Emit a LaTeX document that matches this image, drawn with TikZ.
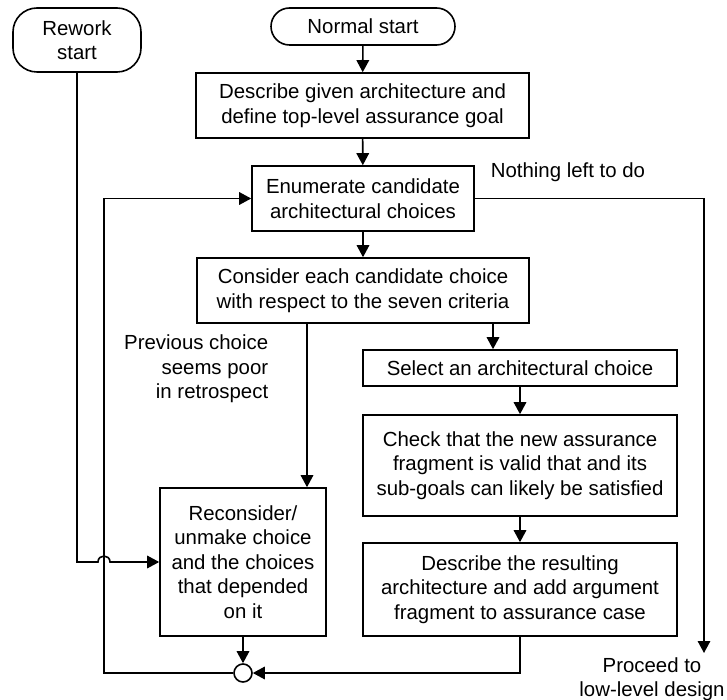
\documentclass[tikz,border=0pt]{standalone}
\usepackage{fontspec}
\setmainfont{Liberation Sans}
\usetikzlibrary{arrows.meta}
\begin{document}
\begin{tikzpicture}[x=1pt,y=-1pt,
  line width=1.6pt,
  txt/.style={font=\fontsize{20.4}{24.5}\selectfont},
  box/.style={draw, rectangle, inner sep=0pt, align=center, txt},
  term/.style={box, rounded corners=#1},
  lbl/.style={inner sep=0pt, txt},
  flow/.style={-{Triangle[length=12pt,width=12.5pt]}},
  merge/.style={draw, circle, minimum size=18pt, inner sep=0pt, fill=white}]
\useasboundingbox (0,0) rectangle (727,700);

% start terminals
\node[term=24pt, minimum width=128pt, minimum height=64pt] (rework) at (77,40) {Rework\\start};
\node[term=18.5pt, minimum width=184pt, minimum height=37pt] (normal) at (363,26.5) {Normal start};

% main column
\node[box, minimum width=333pt, minimum height=65pt] (desc) at (362.5,105.5)
  {Describe given architecture and\\define top-level assurance goal};
\node[box, minimum width=222pt, minimum height=65pt] (enum) at (363,198.5)
  {Enumerate candidate\\architectural choices};
\node[box, minimum width=332pt, minimum height=65pt] (consider) at (363,290.5)
  {Consider each candidate choice\\with respect to the seven criteria};

% right column
\node[box, minimum width=314pt, minimum height=36pt] (select) at (520,368)
  {Select an architectural choice};
\node[box, minimum width=314pt, minimum height=101pt] (check) at (520,465.5)
  {Check that the new assurance\\fragment is valid that and its\\sub-goals can likely be satisfied};
\node[box, minimum width=314pt, minimum height=93pt] (descres) at (520,589.5)
  {Describe the resulting\\architecture and add argument\\fragment to assurance case};

% left column
\node[box, minimum width=166pt, minimum height=148pt] (reconsider) at (243,562)
  {Reconsider/\\unmake choice\\and the choices\\that depended\\on it};

\node[merge] (merge) at (243,673) {};

% labels
\node[lbl, anchor=west] (nothing) at (490,172) {Nothing left to do};
\node[lbl, anchor=east, align=right] (previous) at (269,369)
  {Previous choice\\seems poor\\in retrospect};
\node[lbl, align=center] (proceed) at (652,679) {Proceed to\\low-level design};

\coordinate (loopcorner) at (104,673);
\coordinate (exit) at (704,653);

% connectors
\draw[flow] (normal) -- (desc);
\draw[flow] (desc) -- (enum);
\draw[flow] (enum) -- (consider);
\draw[flow] ([xshift=130pt]consider.south) -- ([xshift=130pt]consider.south |- select.north);
\draw[flow] (select) -- (check);
\draw[flow] (check) -- (descres);
\draw[flow] ([xshift=64pt]reconsider.north |- consider.south) -- ([xshift=64pt]reconsider.north);
\draw[flow] (reconsider) -- (merge);
\draw[flow] (descres.south) |- (merge.east);
\draw[flow] (merge.west) -- (loopcorner) |- (enum.west);
\draw[flow] (enum.east) -| (exit);
\draw[flow] (rework.south) |- (98,562)
  .. controls (98,554) and (110,554) .. (110,562) -- (reconsider.west);
\end{tikzpicture}
\end{document}
